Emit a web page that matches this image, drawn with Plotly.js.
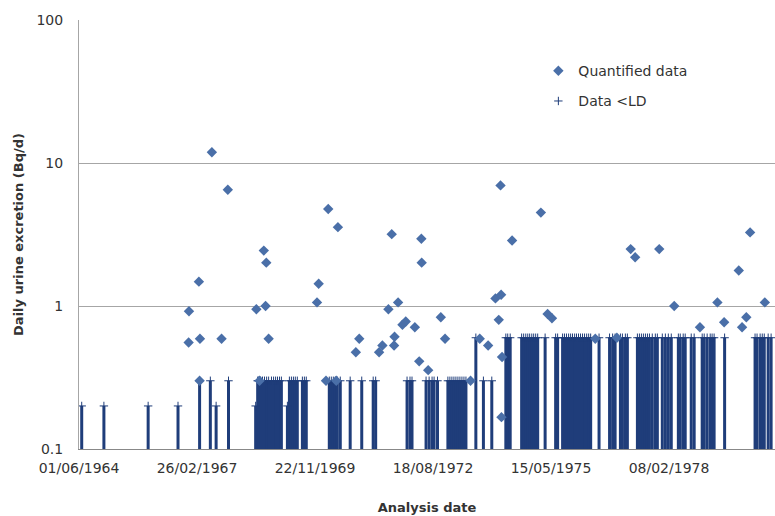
<!DOCTYPE html>
<html>
<head>
<meta charset="utf-8">
<script src="https://cdn.plot.ly/plotly-3.0.1.min.js"></script>
<style>html,body{margin:0;padding:0;background:#fff;}#chart{width:775px;height:516px;}</style>
</head>
<body>
<div id="chart"></div>
<script>
// Quantified data (diamonds)
const quantDates = [
 "1966-12-20","1966-12-17","1967-03-14","1967-03-23","1967-03-20","1967-07-02","1967-09-22","1967-11-14",
 "1968-07-13","1968-09-14","1968-10-05","1968-09-29","1968-10-25","1968-08-09",
 "1969-12-09","1969-12-23","1970-03-14","1970-06-04","1970-02-23","1970-05-21","1970-11-03","1970-12-02",
 "1971-05-19","1971-06-16","1971-08-06","1971-09-03","1971-09-23","1971-09-27","1971-10-27","1971-12-03","1971-12-31",
 "1972-03-17","1972-04-23","1972-05-11","1972-05-14","1972-07-08","1972-10-23","1972-11-28",
 "1973-07-02","1973-09-18","1973-11-28","1974-01-29","1974-03-18","1974-02-26","1974-03-13","1974-03-26","1974-03-21","1974-06-19",
 "1975-02-18","1975-04-16","1975-05-23","1976-05-24","1976-11-23","1977-03-20","1977-04-27","1977-11-17",
 "1978-03-24","1978-10-28","1979-03-25","1979-05-21","1979-09-22","1979-10-20","1979-11-25","1979-12-27","1980-04-30"
];
const quantValues = [
 0.92,0.556,1.48,0.59,0.30,11.9,0.59,6.5,
 0.95,2.44,2.01,1.0,0.59,0.30,
 1.06,1.43,4.77,3.56,0.30,0.30,0.475,0.59,
 0.475,0.53,0.95,3.18,0.53,0.61,1.06,0.74,0.78,
 0.71,0.41,2.95,2.01,0.356,0.835,0.59,
 0.30,0.59,0.53,1.13,1.2,0.80,6.97,0.44,0.167,2.87,
 4.5,0.88,0.82,0.59,0.60,2.5,2.19,2.5,
 1.0,0.71,1.06,0.77,1.77,0.71,0.835,3.27,1.06
];

// Data below detection limit (drawn as bars down to the axis)
const lodDates = [
 "1964-06-24","1964-12-29","1966-01-08","1966-09-18","1967-03-20","1967-06-19","1967-08-07","1967-11-20",
 "1968-07-07","1968-07-24","1968-08-01","1968-08-18","1968-09-03","1968-09-20","1968-10-08","1968-10-25",
 "1968-11-18","1968-12-06","1968-12-23","1969-01-08","1969-01-25","1969-02-10",
 "1969-04-02","1969-04-19","1969-05-06","1969-05-23","1969-06-08","1969-06-25",
 "1969-08-07","1969-08-24","1969-09-09",
 "1970-03-23","1970-04-09","1970-04-26","1970-05-13","1970-05-30","1970-06-24","1970-09-16","1970-12-23",
 "1971-03-30","1971-04-20","1972-01-11","1972-02-05","1972-02-22",
 "1972-06-20","1972-07-16","1972-08-10","1972-08-27","1972-09-25",
 "1972-12-22","1973-01-08","1973-01-25","1973-02-11","1973-02-28","1973-03-17","1973-04-03","1973-04-20","1973-05-07","1973-05-24",
 "1973-08-16","1973-10-19","1973-12-29",
 "1974-04-27","1974-05-13","1974-06-03",
 "1974-09-08","1974-09-25","1974-10-13","1974-10-30","1974-11-15","1974-12-03","1974-12-19","1975-01-05","1975-01-22",
 "1975-03-26","1975-06-23","1975-07-10",
 "1975-08-21","1975-09-06","1975-09-23","1975-10-11","1975-10-28","1975-11-13","1975-12-01","1975-12-17",
 "1976-01-03","1976-01-20","1976-02-06","1976-02-23","1976-03-12","1976-03-29","1976-04-15",
 "1976-06-25","1976-09-22","1976-10-18","1976-11-08",
 "1976-12-23","1977-01-09","1977-02-03","1977-02-20",
 "1977-05-16","1977-06-02","1977-06-19","1977-07-06","1977-07-23","1977-08-09","1977-08-26",
 "1977-09-19","1977-10-15","1977-11-01",
 "1977-12-13","1978-01-08","1978-02-02","1978-02-27",
 "1978-04-28","1978-05-14","1978-06-08","1978-06-25",
 "1978-08-15","1978-09-09",
 "1978-11-16","1978-12-03","1978-12-28","1979-01-23","1979-02-08","1979-02-25",
 "1979-05-25",
 "1980-02-07","1980-02-24","1980-03-21","1980-04-08","1980-04-25","1980-05-28","1980-06-22"
];
const lodValues = [
 0.2,0.2,0.2,0.2,0.3,0.3,0.2,0.3,
 0.2,0.3,0.3,0.3,0.3,0.3,0.3,0.3,
 0.3,0.3,0.3,0.3,0.3,0.3,
 0.2,0.3,0.3,0.3,0.3,0.3,
 0.3,0.3,0.3,
 0.3,0.3,0.3,0.3,0.3,0.3,0.3,0.3,
 0.3,0.3,0.3,0.3,0.3,
 0.3,0.3,0.3,0.3,0.3,
 0.3,0.3,0.3,0.3,0.3,0.3,0.3,0.3,0.3,0.3,
 0.6,0.3,0.3,
 0.6,0.6,0.6,
 0.6,0.6,0.6,0.6,0.6,0.6,0.6,0.6,0.6,
 0.6,0.6,0.6,
 0.6,0.6,0.6,0.6,0.6,0.6,0.6,0.6,
 0.6,0.6,0.6,0.6,0.6,0.6,0.6,
 0.6,0.6,0.6,0.6,
 0.6,0.6,0.6,0.6,
 0.6,0.6,0.6,0.6,0.6,0.6,0.6,
 0.6,0.6,0.6,
 0.6,0.6,0.6,0.6,
 0.6,0.6,0.6,0.6,
 0.6,0.6,
 0.6,0.6,0.6,0.6,0.6,0.6,
 0.6,
 0.6,0.6,0.6,0.6,0.6,0.6,0.6
];

const xTickVals = ["1964-06-01","1967-02-26","1969-11-22","1972-08-18","1975-05-15","1978-02-08"];
const xTickText = ["01/06/1964","26/02/1967","22/11/1969","18/08/1972","15/05/1975","08/02/1978"];
const yTickVals = [0.1, 1, 10, 100];
const yTickText = ["0.1", "1", "10", "100"];

const axisFloor = 0.1;
const barColor = "#1f3d7a";
const dotColor = "#4a6fa8";

const traces = [
 {
  type: "scatter", mode: "markers", name: "Data <LD", legendgroup: "lod", legendrank: 2,
  x: lodDates, y: lodValues,
  marker: {symbol: "cross-thin", size: 6, color: barColor, line: {color: barColor, width: 1}},
  error_y: {type: "data", symmetric: false, array: lodValues.map(() => 0),
            arrayminus: lodValues.map(v => v - axisFloor), color: barColor, thickness: 3, width: 0},
  hoverinfo: "x+y"
 },
 {
  type: "scatter", mode: "markers", name: "Quantified data", legendgroup: "quant", legendrank: 1,
  x: quantDates, y: quantValues,
  marker: {symbol: "diamond", size: 8, color: dotColor},
  hoverinfo: "x+y"
 }
];

const layout = {
 width: 775, height: 516,
 margin: {l: 79, r: 0, t: 20, b: 67},
 paper_bgcolor: "#fff", plot_bgcolor: "#fff",
 font: {family: "DejaVu Sans, sans-serif", size: 14, color: "#333"},
 showlegend: true,
 legend: {x: 0.66, y: 0.918, xanchor: "left", yanchor: "top", bgcolor: "rgba(0,0,0,0)",
          traceorder: "grouped", font: {size: 14, color: "#333"}, itemwidth: 30, tracegroupgap: 9},
 xaxis: {
  type: "date", range: ["1964-06-01", "1980-07-25"],
  tickmode: "array", tickvals: xTickVals, ticktext: xTickText,
  showgrid: false, zeroline: false, showline: true, linecolor: "#888", linewidth: 1,
  ticks: "", ticklabelstandoff: 6, tickfont: {size: 14, color: "#333"},
  title: {text: "Analysis date", font: {size: 13, color: "#333", weight: "bold"}, standoff: 28}
 },
 yaxis: {
  type: "log", range: [-1, 2],
  tickmode: "array", tickvals: yTickVals, ticktext: yTickText,
  showgrid: true, gridcolor: "#a6a6a6", gridwidth: 1,
  zeroline: false, showline: true, linecolor: "#a6a6a6", linewidth: 1,
  ticks: "", ticklabelstandoff: 12, tickfont: {size: 14, color: "#333"},
  title: {text: "Daily urine excretion (Bq/d)", font: {size: 13, color: "#333", weight: "bold"}, standoff: 9}
 }
};

Plotly.newPlot("chart", traces, layout, {displayModeBar: false, staticPlot: true});
</script>
</body>
</html>
